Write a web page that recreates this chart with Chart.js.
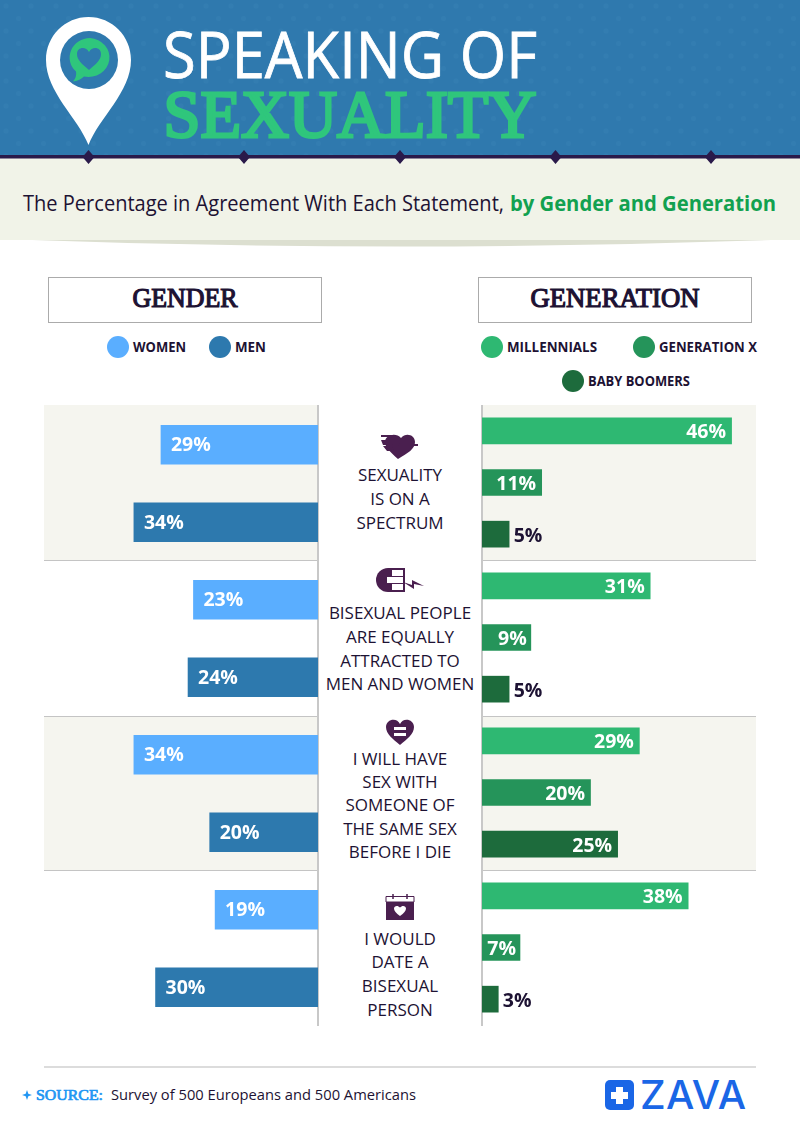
<!DOCTYPE html>
<html>
<head>
<meta charset="utf-8">
<title>Speaking of Sexuality</title>
<script src="https://cdn.jsdelivr.net/npm/chart.js@4"></script>
<style>
	html, body { margin: 0; padding: 0; background: #fff; }
	#page { position: relative; width: 800px; height: 1124px; overflow: hidden; }
	#fundo { position: absolute; left: 0; top: 0; }
	#page canvas { position: absolute; }
	#graficoGenero { left: 44px; top: 406px; }
	#graficoGeracao { left: 482px; top: 405px; }
	text { font-family: "Open Sans", sans-serif; fill: #1d1233; }
	.slab { font-family: "Liberation Serif", serif; font-weight: 400; }
	.legenda { font-size: 13.5px; font-weight: 700; }
	.frase { font-size: 17px; text-anchor: middle; }
</style>
</head>
<body>
<div id="page">
<svg id="fundo" width="800" height="1124" viewBox="0 0 800 1124" xmlns="http://www.w3.org/2000/svg">
	<defs>
		<pattern id="pontos" width="25" height="25" patternUnits="userSpaceOnUse">
			<circle cx="6" cy="6" r="2.5" fill="#337db1"/>
			<circle cx="18.5" cy="18.5" r="2.5" fill="#337db1"/>
		</pattern>
	</defs>

	<!-- cabecalho -->
	<rect x="0" y="0" width="800" height="156" fill="#2f79ae"/>
	<rect x="0" y="0" width="800" height="156" fill="url(#pontos)"/>
	<path d="M0,239 L800,239 Q400,254 0,239 Z" fill="#dcdfd0"/>
	<rect x="0" y="158" width="800" height="82" fill="#f1f3e8"/>
	<rect x="0" y="155" width="800" height="3.5" fill="#2a1a4a"/>
	<path d="M88.5,150 l6,7 l-6,7 l-6,-7 Z M244,150 l6,7 l-6,7 l-6,-7 Z M400,150 l6,7 l-6,7 l-6,-7 Z M555.5,150 l6,7 l-6,7 l-6,-7 Z M711,150 l6,7 l-6,7 l-6,-7 Z" fill="#2a1a4a"/>

	<!-- pino -->
	<path d="M88.5,145 C78,118 46,92 46,60 C46,36 65,17 88.5,17 C112,17 131,36 131,60 C131,92 99,118 88.5,145 Z" fill="#fff"/>
	<circle cx="89" cy="60" r="29" fill="#2f79ae"/>
	<path d="M90,38 A21,19.5 0 1 1 84,76.5 Q79,81 73,81.5 Q77,77 76,71.5 A21,19.5 0 0 1 90,38 Z" fill="#2fc67c"/>
	<path d="M89,70 C82,64 77,60 77,54 C77,47 86,46 89,52 C92,46 101,47 101,54 C101,60 96,64 89,70 Z" fill="#2f79ae"/>

	<text x="163" y="78" font-size="64" textLength="374" lengthAdjust="spacingAndGlyphs" style="fill:#fff;stroke:#fff;stroke-width:0.8">SPEAKING OF</text>
	<text class="slab" x="163.5" y="136.5" font-size="68" textLength="373" lengthAdjust="spacingAndGlyphs" style="fill:#2fc67c;stroke:#2fc67c;stroke-width:3">SEXUALITY</text>

	<text x="23" y="211" font-size="22" textLength="481" lengthAdjust="spacingAndGlyphs">The Percentage in Agreement With Each Statement,</text>
	<text x="510" y="211" font-size="22" font-weight="700" textLength="266" lengthAdjust="spacingAndGlyphs" style="fill:#12a150">by Gender and Generation</text>

	<!-- caixas -->
	<rect x="48.5" y="277.5" width="273" height="45" fill="#fff" stroke="#ababab"/>
	<rect x="478.5" y="277.5" width="273" height="45" fill="#fff" stroke="#ababab"/>
	<text class="slab" x="132.5" y="306.5" font-size="27" textLength="105" lengthAdjust="spacingAndGlyphs" style="stroke:#1d1233;stroke-width:1.2">GENDER</text>
	<text class="slab" x="530.5" y="306.5" font-size="27" textLength="169" lengthAdjust="spacingAndGlyphs" style="stroke:#1d1233;stroke-width:1.2">GENERATION</text>

	<!-- legendas -->
	<circle cx="118" cy="347" r="11" fill="#5aaeff"/>
	<text class="legenda" x="133" y="352" textLength="53" lengthAdjust="spacingAndGlyphs">WOMEN</text>
	<circle cx="220" cy="347" r="11" fill="#2d79ae"/>
	<text class="legenda" x="235" y="352" textLength="31" lengthAdjust="spacingAndGlyphs">MEN</text>
	<circle cx="492" cy="347" r="11" fill="#2eb872"/>
	<text class="legenda" x="507" y="352" textLength="90" lengthAdjust="spacingAndGlyphs">MILLENNIALS</text>
	<circle cx="644" cy="347" r="11" fill="#25945a"/>
	<text class="legenda" x="659" y="352" textLength="98" lengthAdjust="spacingAndGlyphs">GENERATION X</text>
	<circle cx="573" cy="381" r="11" fill="#1d6b3c"/>
	<text class="legenda" x="588" y="386" textLength="102" lengthAdjust="spacingAndGlyphs">BABY BOOMERS</text>

	<!-- faixas atras dos graficos -->
	<rect x="44" y="405" width="274" height="155" fill="#f5f5ef"/>
	<rect x="482" y="405" width="274" height="155" fill="#f5f5ef"/>
	<rect x="44" y="716" width="274" height="154" fill="#f5f5ef"/>
	<rect x="482" y="716" width="274" height="154" fill="#f5f5ef"/>
	<path d="M44,560.5 H318 M482,560.5 H756 M44,716.5 H318 M482,716.5 H756 M44,870.5 H318 M482,870.5 H756" stroke="#c4c4c4" fill="none"/>
	<path d="M318,405 V1026 M482,405 V1026" stroke="#c8c8c8" stroke-width="2" fill="none"/>

	<!-- icones -->
	<g fill="#4a1f4f">
		<path d="M398,459 C390,452 385,447 385,442 C385,435 396,432 401,438 C406,432 415,435 415,442 C415,449 408,453 398,459 Z"/>
		<path d="M381,435 H392 L400,444 H418 V446 H399 L391,437 H381 Z M381,440 H389 L393,445 H383 Z M383,446 H392 L394,451 H387 Z"/>
		<path d="M388,568 H405 V592 H388 A12,12 0 0 1 388,568 Z"/>
		<path d="M403,582 L412,585 L412,580 L424,586 L414,584 L414,589 Z"/>
		<path d="M400,745 C393,739 386,734 386,727 C386,719 397,717 400,724 C403,717 414,719 414,727 C414,734 407,739 400,745 Z"/>
		<rect x="386" y="902" width="28" height="18"/>
		<path d="M386,896.5 H414 V902 H386 Z" fill="#fff" stroke="#4a1f4f"/>
		<path d="M393,894 V899 M407,894 V899" stroke="#4a1f4f" stroke-width="1.5"/>
	</g>
	<g fill="#fff">
		<rect x="392" y="570" width="11" height="6"/>
		<rect x="392" y="584" width="11" height="6"/>
		<rect x="387" y="577" width="16" height="6"/>
		<rect x="394" y="727" width="12" height="3"/>
		<rect x="394" y="733" width="12" height="3"/>
		<path d="M400,916 C396,913 394,911 394,908.5 C394,905.5 398,905 400,907.5 C402,905 406,905.5 406,908.5 C406,911 404,913 400,916 Z"/>
	</g>

	<!-- frases -->
	<text class="frase" x="400" y="481">SEXUALITY</text>
	<text class="frase" x="400" y="505">IS ON A</text>
	<text class="frase" x="400" y="529">SPECTRUM</text>
	<text class="frase" x="400" y="619">BISEXUAL PEOPLE</text>
	<text class="frase" x="400" y="643">ARE EQUALLY</text>
	<text class="frase" x="400" y="667">ATTRACTED TO</text>
	<text class="frase" x="400" y="690">MEN AND WOMEN</text>
	<text class="frase" x="400" y="765">I WILL HAVE</text>
	<text class="frase" x="400" y="788">SEX WITH</text>
	<text class="frase" x="400" y="811">SOMEONE OF</text>
	<text class="frase" x="400" y="835">THE SAME SEX</text>
	<text class="frase" x="400" y="858">BEFORE I DIE</text>
	<text class="frase" x="400" y="945">I WOULD</text>
	<text class="frase" x="400" y="968">DATE A</text>
	<text class="frase" x="400" y="992">BISEXUAL</text>
	<text class="frase" x="400" y="1016">PERSON</text>

	<!-- rodape -->
	<rect x="44" y="1066" width="712" height="2" fill="#dcdcdc"/>
	<path d="M27,1090 l1.3,3.7 l3.7,1.3 l-3.7,1.3 l-1.3,3.7 l-1.3,-3.7 l-3.7,-1.3 l3.7,-1.3 Z" fill="#2196f3"/>
	<text class="slab" x="36" y="1100" font-size="15" textLength="67" lengthAdjust="spacingAndGlyphs" style="fill:#2196f3;stroke:#2196f3;stroke-width:0.7">SOURCE:</text>
	<text x="111" y="1100" font-size="14.5" textLength="305" lengthAdjust="spacingAndGlyphs">Survey of 500 Europeans and 500 Americans</text>
	<rect x="605" y="1080" width="29" height="30" rx="5" fill="#1a66e6"/>
	<path d="M616,1087 h7 v5 h5 v7 h-5 v5 h-7 v-5 h-5 v-7 h5 Z" fill="#fff"/>
	<text x="640" y="1109" font-size="40" textLength="106" lengthAdjust="spacing" style="font-family:Inter,sans-serif;font-weight:500;fill:#1a66e6">ZAVA</text>
</svg>
<canvas id="graficoGenero" width="274" height="620"></canvas>
<canvas id="graficoGeracao" width="274" height="620"></canvas>
</div>

<script>
// Dados
const statements = [
	'Sexuality is on a spectrum',
	'Bisexual people are equally attracted to men and women',
	'I will have sex with someone of the same sex before I die',
	'I would date a bisexual person',
];
const women = [29, 23, 34, 19];
const men = [34, 24, 20, 30];
const millennials = [46, 31, 29, 38];
const generationX = [11, 9, 20, 7];
const babyBoomers = [5, 5, 25, 3];

const genderNames = ['Women', 'Men'];
const genderValues = [women, men];
const genderColors = ['#5aaeff', '#2d79ae'];

const generationNames = ['Millennials', 'Generation X', 'Baby Boomers'];
const generationValues = [millennials, generationX, babyBoomers];
const generationColors = ['#2eb872', '#25945a', '#1d6b3c'];

// Cada barra tem a sua propria linha no eixo y
function montarDados(names, values, colors) {
	return {
		labels: statements.flatMap((s) => names.map((n) => s + ' - ' + n)),
		datasets: names.map((name, k) => ({
			label: name,
			backgroundColor: colors[k],
			data: statements.flatMap((s, i) => names.map((n, j) => (j === k ? values[k][i] : null))),
		})),
	};
}

// Escreve o valor dentro da barra (ou ao lado, se a barra for curta)
const rotulos = {
	id: 'rotulos',
	afterDatasetsDraw(chart) {
		const ctx = chart.ctx;
		const invertido = chart.options.scales.x.reverse;
		ctx.save();
		ctx.font = '700 19.5px "Open Sans", sans-serif';
		ctx.textBaseline = 'middle';
		chart.data.datasets.forEach((ds, d) => {
			chart.getDatasetMeta(d).data.forEach((bar, i) => {
				const v = ds.data[i];
				if (v === null) return;
				if (invertido) {
					ctx.fillStyle = '#fff';
					ctx.textAlign = 'left';
					ctx.fillText(v + '%', bar.x + 10, bar.y + 1);
				} else if (v < 7) {
					ctx.fillStyle = '#1d1233';
					ctx.textAlign = 'left';
					ctx.fillText(v + '%', bar.x + 4.5, bar.y + 2);
				} else {
					ctx.fillStyle = '#fff';
					ctx.textAlign = 'right';
					ctx.fillText(v + '%', bar.x - (v < 10 ? 4 : 5.5), bar.y + 2);
				}
			});
		});
		ctx.restore();
	},
};

function criarGrafico(id, dados, espessura, invertido, maximo) {
	return new Chart(document.getElementById(id), {
		type: 'bar',
		data: dados,
		plugins: [rotulos],
		options: {
			indexAxis: 'y',
			responsive: false,
			animation: false,
			layout: { padding: 0 },
			barThickness: espessura,
			scales: {
				x: { display: false, stacked: true, min: 0, max: maximo, reverse: invertido },
				y: { display: false, stacked: true },
			},
			plugins: {
				legend: { display: false },
				tooltip: { enabled: false },
			},
		},
	});
}

criarGrafico('graficoGenero', montarDados(genderNames, genderValues, genderColors), 39, true, 50.6);
criarGrafico('graficoGeracao', montarDados(generationNames, generationValues, generationColors), 26, false, 50.5);
</script>
</body>
</html>
